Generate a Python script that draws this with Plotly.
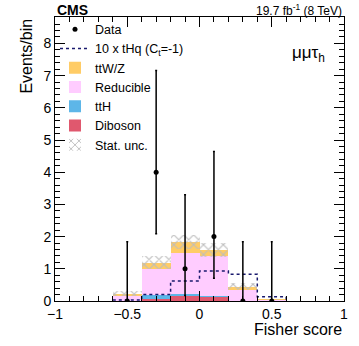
import numpy as np
import plotly.graph_objects as go

# ─── Data ─────────────────────────────────────────────────────────────────────

bin_centers = [-0.5, -0.3, -0.1, 0.1, 0.3, 0.5]

diboson   = [0.005, 0.05, 0.155, 0.13, 0.005, 0.0]
tth       = [0.01, 0.15, 0.075, 0.035, 0.01, 0.0]
reducible = [0.13, 0.78, 1.25, 1.235, 0.335, 0.04]
ttwz      = [0.085, 0.21, 0.36, 0.19, 0.095, 0.005]
stat_unc  = [0.07, 0.20, 0.21, 0.21, 0.11, 0.02]

thq_edges  = [-0.6, -0.4, -0.2, 0.0, 0.2, 0.4, 0.6]
thq_values = [0.03, 0.20, 0.62, 0.93, 0.83, 0.13, 0.0]

data_x      = [-0.5, -0.3, -0.1, 0.1, 0.3, 0.5]
data_y      = [0, 4, 1, 2, 0, 0]
data_err_up = [1.84, 3.16, 2.30, 2.64, 1.84, 1.84]
data_err_dn = [0.0, 1.91, 0.83, 1.29, 0.0, 0.0]

# ─── Style ────────────────────────────────────────────────────────────────────

FONT = "Liberation Sans, Arial, sans-serif"
C_TTWZ = "#ffcc66"
C_RED  = "#ffccff"
C_TTH  = "#5db6e8"
C_DIB  = "#e0586e"
C_THQ  = "#1a1a6e"
BIN_W  = 0.2

fig = go.Figure()

stack = [
    ("Diboson", diboson, C_DIB, 6),
    ("ttH", tth, C_TTH, 5),
    ("Reducible", reducible, C_RED, 4),
    ("ttW/Z", ttwz, C_TTWZ, 3),
]
base = np.zeros(len(bin_centers))
for name, vals, color, rank in stack:
    vals = np.array(vals)
    fig.add_trace(go.Bar(
        x=bin_centers, y=vals, base=base, width=BIN_W,
        name=name, marker=dict(color=color, line=dict(width=0)),
        legendrank=rank,
    ))
    base = base + vals

total = base
unc = np.array(stat_unc)
fig.add_trace(go.Bar(
    x=bin_centers, y=2 * unc, base=total - unc, width=BIN_W,
    name="Stat. unc.", legendrank=7,
    marker=dict(color="rgba(255,255,255,0)", line=dict(width=0),
                pattern=dict(shape="x", fgcolor="#bdbdbd", fgopacity=1,
                             size=7, solidity=0.3)),
))

fig.add_trace(go.Scatter(
    x=thq_edges, y=thq_values, mode="lines", line_shape="hv",
    name="10 x tHq (C<sub>t</sub>=-1)", legendrank=2,
    line=dict(color=C_THQ, dash="dot", width=1.5),
))

fig.add_trace(go.Scatter(
    x=data_x, y=data_y, mode="markers", name="Data", legendrank=1,
    marker=dict(color="black", size=5),
    error_y=dict(type="data", symmetric=False, array=data_err_up, arrayminus=data_err_dn,
                 color="black", thickness=1.5, width=1),
))

# ─── Layout ───────────────────────────────────────────────────────────────────

axis_common = dict(
    showline=True, linecolor="black", linewidth=1, mirror="ticks",
    ticks="inside", ticklen=10, tickcolor="black", tickwidth=1,
    showgrid=False, zeroline=False,
    tickfont=dict(family=FONT, size=14, color="black"),
)

fig.update_layout(
    width=359, height=346,
    paper_bgcolor="white", plot_bgcolor="white",
    margin=dict(l=55, r=15, t=17, b=45),
    barmode="overlay", bargap=0,
    font=dict(family=FONT, color="black"),
    xaxis=dict(**axis_common, range=[-1, 1], tickvals=[-1, -0.5, 0, 0.5, 1],
               ticktext=["\u22121", "\u22120.5", "0", "0.5", "1"],
               minor=dict(dtick=0.1, ticklen=5, ticks="inside", tickcolor="black")),
    yaxis=dict(**axis_common, range=[0, 8.82], dtick=1,
               minor=dict(dtick=0.2, ticklen=5, ticks="inside", tickcolor="black")),
    legend=dict(x=0.0, y=1.008, xanchor="left", yanchor="top",
                bgcolor="rgba(0,0,0,0)", font=dict(size=12.5, family=FONT),
                itemwidth=30, tracegroupgap=0),
    annotations=[
        dict(text="<b>CMS</b>", x=0, y=1, xref="paper", yref="paper",
             xanchor="left", yanchor="bottom", showarrow=False,
             font=dict(size=14, family=FONT), yshift=-3),
        dict(text="19.7 fb<sup>-1</sup> (8 TeV)", x=1, y=1, xref="paper", yref="paper",
             xanchor="right", yanchor="bottom", showarrow=False,
             font=dict(size=12, family=FONT), yshift=-3),
        dict(text="\u03bc\u03bc\u03c4<sub>h</sub>", x=0.94, y=0.87, xref="paper", yref="paper",
             xanchor="right", yanchor="middle", showarrow=False,
             font=dict(size=17, family=FONT)),
        dict(text="Events/bin", x=-0.10, y=1, xref="paper", yref="paper",
             xanchor="center", yanchor="top", textangle=-90, showarrow=False,
             font=dict(size=16, family=FONT)),
        dict(text="Fisher score", x=1, y=-0.065, xref="paper", yref="paper",
             xanchor="right", yanchor="top", showarrow=False,
             font=dict(size=16, family=FONT)),
    ],
)

fig.write_html("out.html", config={"displayModeBar": False},
               post_script="document.body.style.margin='0';")
